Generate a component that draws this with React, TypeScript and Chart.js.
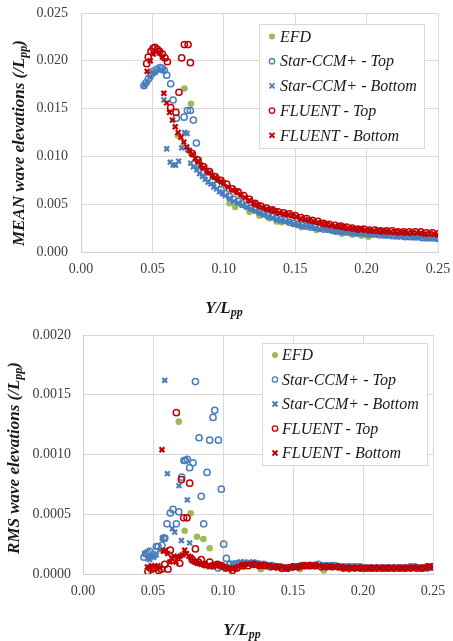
import React, { useEffect, useRef } from 'react';
import { Chart, registerables } from 'chart.js';
Chart.register(...registerables);

type P = [number, number];

// ---------- MEAN wave elevations ----------
const meanEfd: P[] = [
  [0.0677, 0.0122], [0.0724, 0.0171], [0.077, 0.0155], [0.0822, 0.0093],
  [0.104, 0.0051], [0.108, 0.0047], [0.118, 0.0042], [0.125, 0.0038], [0.132, 0.0035],
  [0.137, 0.0032], [0.1405, 0.0031], [0.1506, 0.0029], [0.1545, 0.0026], [0.165, 0.0023],
  [0.178, 0.0021], [0.1825, 0.0019], [0.19, 0.0018], [0.1965, 0.0017], [0.2012, 0.0016],
];

const meanStarTop: P[] = [
  [0.0441, 0.0174], [0.0455, 0.0177], [0.0472, 0.0181], [0.0488, 0.0185], [0.0506, 0.0189],
  [0.053, 0.0191], [0.0553, 0.0193], [0.057, 0.0192], [0.0584, 0.019], [0.06, 0.0185],
  [0.0628, 0.0176], [0.0645, 0.0159], [0.0668, 0.014], [0.0722, 0.0141], [0.0745, 0.0148],
  [0.0766, 0.0148], [0.0787, 0.0138], [0.0808, 0.0114],
  [0.083, 0.009], [0.086, 0.0084], [0.089, 0.0078], [0.092, 0.0074], [0.095, 0.007],
  [0.098, 0.0065], [0.101, 0.0061], [0.104, 0.0058], [0.107, 0.0055], [0.11, 0.0053],
  [0.113, 0.005], [0.116, 0.0048], [0.119, 0.0046], [0.122, 0.0044], [0.125, 0.0042],
  [0.128, 0.004], [0.131, 0.0038], [0.134, 0.0037], [0.137, 0.0035], [0.14, 0.0034],
  [0.143, 0.0033], [0.146, 0.0031], [0.149, 0.003], [0.152, 0.0029], [0.155, 0.0028],
  [0.158, 0.0027], [0.161, 0.0026], [0.164, 0.0026], [0.167, 0.0025], [0.17, 0.0024],
  [0.173, 0.0024], [0.176, 0.0023], [0.179, 0.0022], [0.182, 0.0022], [0.185, 0.0021],
  [0.188, 0.0021], [0.191, 0.002], [0.194, 0.002], [0.197, 0.002], [0.2, 0.0019],
  [0.203, 0.0019], [0.206, 0.0019], [0.209, 0.0018], [0.212, 0.0018], [0.215, 0.0018],
  [0.218, 0.0017], [0.221, 0.0017], [0.224, 0.0017], [0.227, 0.0016], [0.23, 0.0016],
  [0.233, 0.0016], [0.236, 0.0016], [0.239, 0.0015], [0.242, 0.0015], [0.245, 0.0015],
  [0.248, 0.0015], [0.25, 0.0014],
];

const meanStarBottom: P[] = [
  [0.0441, 0.0174], [0.0462, 0.0178], [0.0485, 0.0183], [0.0506, 0.0187], [0.052, 0.0188],
  [0.055, 0.019], [0.057, 0.019], [0.0581, 0.0159], [0.06, 0.0108], [0.0625, 0.0094],
  [0.0645, 0.0091], [0.0662, 0.0091], [0.0684, 0.0095], [0.0705, 0.0109], [0.0725, 0.0125],
  [0.0742, 0.0124], [0.0747, 0.0107], [0.0768, 0.0093], [0.0787, 0.0089], [0.081, 0.0086],
  [0.083, 0.0082], [0.085, 0.0079], [0.087, 0.0076], [0.089, 0.0073], [0.091, 0.0071],
  [0.093, 0.0068], [0.095, 0.0066], [0.097, 0.0063], [0.099, 0.0061], [0.101, 0.0059],
  [0.104, 0.0056], [0.107, 0.0053], [0.11, 0.0051], [0.113, 0.0049], [0.116, 0.0047],
  [0.119, 0.0045], [0.122, 0.0043], [0.125, 0.0041], [0.128, 0.0039], [0.131, 0.0037],
  [0.134, 0.0036], [0.137, 0.0034], [0.14, 0.0033], [0.143, 0.0032], [0.146, 0.0031],
  [0.149, 0.0029], [0.152, 0.0028], [0.155, 0.0027], [0.158, 0.0027], [0.161, 0.0026],
  [0.164, 0.0025], [0.167, 0.0024], [0.17, 0.0024], [0.173, 0.0023], [0.176, 0.0022],
  [0.179, 0.0022], [0.182, 0.0021], [0.185, 0.0021], [0.188, 0.002], [0.191, 0.002],
  [0.194, 0.0019], [0.197, 0.0019], [0.2, 0.0019], [0.203, 0.0018], [0.206, 0.0018],
  [0.209, 0.0018], [0.212, 0.0017], [0.215, 0.0017], [0.218, 0.0017], [0.221, 0.0016],
  [0.224, 0.0016], [0.227, 0.0016], [0.23, 0.0016], [0.233, 0.0015], [0.236, 0.0015],
  [0.239, 0.0015], [0.242, 0.0014], [0.245, 0.0014], [0.248, 0.0014],
];

const meanFluentTop: P[] = [
  [0.046, 0.0197], [0.0471, 0.0204], [0.049, 0.021], [0.0505, 0.0213], [0.0518, 0.0214],
  [0.0535, 0.0212], [0.055, 0.021], [0.057, 0.0207], [0.0588, 0.0203], [0.0605, 0.0199],
  [0.0628, 0.0151], [0.0665, 0.0146], [0.0686, 0.0167], [0.0705, 0.0203], [0.0724, 0.0217],
  [0.075, 0.0217], [0.0766, 0.0198],
  [0.078, 0.0103], [0.082, 0.0096], [0.086, 0.0089], [0.09, 0.0084], [0.094, 0.0079],
  [0.098, 0.0075], [0.102, 0.0071], [0.106, 0.0066], [0.11, 0.0063], [0.114, 0.0059],
  [0.118, 0.0055], [0.122, 0.0051], [0.126, 0.0048], [0.13, 0.0046], [0.134, 0.0044],
  [0.138, 0.0042], [0.142, 0.0041], [0.146, 0.004], [0.15, 0.0038], [0.154, 0.0036],
  [0.158, 0.0035], [0.162, 0.0033], [0.166, 0.0032], [0.17, 0.003], [0.174, 0.0029],
  [0.178, 0.0028], [0.182, 0.0027], [0.186, 0.0026], [0.19, 0.0025], [0.194, 0.0024],
  [0.198, 0.0024], [0.202, 0.0023], [0.206, 0.0023], [0.21, 0.0022], [0.214, 0.0022],
  [0.218, 0.0022], [0.222, 0.0021], [0.226, 0.0021], [0.23, 0.0021], [0.234, 0.0021],
  [0.238, 0.0021], [0.242, 0.002], [0.246, 0.002], [0.25, 0.0019],
];

const meanFluentBottom: P[] = [
  [0.0463, 0.0189], [0.0485, 0.02], [0.0506, 0.0207], [0.053, 0.021], [0.055, 0.0208],
  [0.057, 0.0204], [0.058, 0.0166], [0.06, 0.0156], [0.062, 0.0146], [0.064, 0.0138],
  [0.066, 0.0131], [0.068, 0.0125], [0.07, 0.012], [0.072, 0.0115], [0.074, 0.011],
  [0.076, 0.0106], [0.078, 0.0102], [0.08, 0.0098], [0.082, 0.0095], [0.084, 0.0091],
  [0.086, 0.0088], [0.088, 0.0085], [0.09, 0.0083], [0.092, 0.008], [0.094, 0.0078],
  [0.096, 0.0076], [0.098, 0.0074], [0.1, 0.0072], [0.103, 0.0068], [0.106, 0.0065],
  [0.109, 0.0063], [0.112, 0.006], [0.115, 0.0057], [0.118, 0.0054], [0.121, 0.0051],
  [0.124, 0.0049], [0.127, 0.0047], [0.13, 0.0045], [0.133, 0.0044], [0.136, 0.0043],
  [0.139, 0.0041], [0.142, 0.004], [0.145, 0.0039], [0.148, 0.0038], [0.151, 0.0037],
  [0.154, 0.0035], [0.157, 0.0034], [0.16, 0.0033], [0.163, 0.0032], [0.166, 0.0031],
  [0.169, 0.003], [0.172, 0.0029], [0.175, 0.0028], [0.178, 0.0027], [0.181, 0.0027],
  [0.184, 0.0026], [0.187, 0.0025], [0.19, 0.0025], [0.193, 0.0024], [0.196, 0.0024],
  [0.199, 0.0023], [0.202, 0.0023], [0.205, 0.0022], [0.208, 0.0022], [0.211, 0.0022],
  [0.214, 0.0022], [0.217, 0.0021], [0.22, 0.0021], [0.223, 0.0021], [0.226, 0.0021],
  [0.229, 0.002], [0.232, 0.002], [0.235, 0.002], [0.238, 0.002], [0.241, 0.0019],
  [0.244, 0.0019], [0.247, 0.0019], [0.25, 0.0018],
];

// ---------- RMS wave elevations ----------
const rmsEfd: P[] = [
  [0.0684, 0.001275], [0.0726, 0.000362], [0.0769, 0.000508], [0.0814, 0.000312],
  [0.086, 0.000293], [0.0905, 0.000215], [0.105, 0.00005], [0.115, 0.00006],
  [0.127, 0.00004], [0.142, 0.00004], [0.155, 0.00004], [0.172, 0.00003],
  [0.19, 0.00004], [0.2, 0.00004],
];

const rmsStarTop: P[] = [
  [0.0436, 0.00014], [0.0448, 0.00017], [0.0462, 0.00018], [0.0476, 0.00019], [0.0505, 0.00016],
  [0.0524, 0.00023], [0.0536, 0.00023], [0.0564, 0.00024], [0.0575, 0.0003], [0.0584, 0.0003],
  [0.06, 0.00042], [0.0624, 0.00051], [0.0643, 0.00054], [0.0667, 0.00042], [0.0684, 0.00052],
  [0.0705, 0.00081], [0.0721, 0.00095], [0.0731, 0.00095], [0.0745, 0.00096], [0.0762, 0.00089],
  [0.0786, 0.00093], [0.0803, 0.00161], [0.0829, 0.00114], [0.0845, 0.00065], [0.0862, 0.00042],
  [0.0886, 0.00085], [0.0905, 0.00112], [0.0929, 0.00131], [0.0941, 0.00137], [0.0965, 0.00005],
  [0.0967, 0.00112], [0.0988, 0.00071], [0.1005, 0.00025], [0.1024, 0.00013],
  [0.105, 0.00008], [0.108, 0.00008], [0.111, 0.00009], [0.114, 0.00009], [0.117, 0.00009],
  [0.12, 0.00009], [0.123, 0.00009], [0.126, 0.00008], [0.129, 0.00008], [0.132, 0.00007],
  [0.135, 0.00007], [0.138, 0.00006], [0.141, 0.00006], [0.144, 0.00005], [0.147, 0.00005],
  [0.15, 0.00006], [0.153, 0.00006], [0.156, 0.00007], [0.159, 0.00007], [0.162, 0.00007],
  [0.165, 0.00007], [0.168, 0.00008], [0.171, 0.00007], [0.174, 0.00007], [0.177, 0.00007],
  [0.18, 0.00007], [0.183, 0.00006], [0.186, 0.00006], [0.189, 0.00006], [0.192, 0.00006],
  [0.195, 0.00006], [0.198, 0.00006], [0.201, 0.00005], [0.204, 0.00005], [0.207, 0.00005],
  [0.21, 0.00005], [0.213, 0.00005], [0.216, 0.00005], [0.219, 0.00005], [0.222, 0.00005],
  [0.225, 0.00005], [0.228, 0.00005], [0.231, 0.00005], [0.234, 0.00006], [0.237, 0.00006],
  [0.24, 0.00005], [0.243, 0.00005], [0.246, 0.00005], [0.249, 0.00006],
];

const rmsStarBottom: P[] = [
  [0.0441, 0.00017], [0.046, 0.00013], [0.0476, 0.00012], [0.049, 0.00015], [0.0505, 0.00014],
  [0.0524, 0.00016], [0.0548, 0.0002], [0.0567, 0.0003], [0.0584, 0.00162], [0.0603, 0.00084],
  [0.0638, 0.00038], [0.0655, 0.00035], [0.0686, 0.00074], [0.0703, 0.00028], [0.0745, 0.00062],
  [0.0762, 0.00026], [0.078, 0.00012], [0.08, 0.0001], [0.083, 0.00009], [0.086, 0.00008],
  [0.09, 0.00007], [0.094, 0.00007], [0.098, 0.00006], [0.102, 0.00007],
  [0.1065, 0.00009], [0.1095, 0.00009], [0.1125, 0.0001], [0.1155, 0.0001], [0.1185, 0.00009],
  [0.1215, 0.0001], [0.1245, 0.00009], [0.1275, 0.00008], [0.1305, 0.00007], [0.1335, 0.00007],
  [0.1365, 0.00006], [0.1395, 0.00006], [0.1425, 0.00005], [0.1455, 0.00004], [0.1485, 0.00005],
  [0.1515, 0.00006], [0.1545, 0.00006], [0.1575, 0.00007], [0.1605, 0.00007], [0.1635, 0.00008],
  [0.1665, 0.00007], [0.1695, 0.00007], [0.1725, 0.00007], [0.1755, 0.00007], [0.1785, 0.00006],
  [0.1815, 0.00006], [0.1845, 0.00006], [0.1875, 0.00006], [0.1905, 0.00005], [0.1935, 0.00005],
  [0.1965, 0.00005], [0.1995, 0.00005], [0.2025, 0.00005], [0.2055, 0.00005], [0.2085, 0.00005],
  [0.2115, 0.00005], [0.2145, 0.00005], [0.2175, 0.00005], [0.2205, 0.00005], [0.2235, 0.00005],
  [0.2265, 0.00005], [0.2295, 0.00005], [0.2325, 0.00005], [0.2355, 0.00006], [0.2385, 0.00005],
  [0.2415, 0.00005], [0.2445, 0.00005], [0.2475, 0.00005],
];

const rmsFluentTop: P[] = [
  [0.0464, 0.00002], [0.049, 0.00004], [0.0512, 0.00005], [0.054, 0.00003], [0.056, 0.00004],
  [0.0584, 0.00008], [0.0607, 0.00004], [0.0624, 0.0002], [0.0645, 0.00012], [0.0667, 0.00135],
  [0.0691, 0.00009], [0.0703, 0.00079], [0.0719, 0.00047], [0.0743, 0.00047], [0.0762, 0.00076],
  [0.078, 0.00012], [0.0803, 0.00021], [0.0825, 0.0001], [0.0845, 0.00012], [0.087, 0.00008],
  [0.0905, 0.0001], [0.093, 0.00007], [0.096, 0.00008], [0.099, 0.00007], [0.102, 0.00005],
  [0.1067, 0.00003],
  [0.11, 0.00005], [0.114, 0.00007], [0.118, 0.00007], [0.122, 0.00008], [0.126, 0.00007],
  [0.13, 0.00007], [0.134, 0.00006], [0.138, 0.00006], [0.142, 0.00005], [0.146, 0.00005],
  [0.15, 0.00006], [0.154, 0.00006], [0.158, 0.00007], [0.162, 0.00007], [0.166, 0.00007],
  [0.17, 0.00006], [0.174, 0.00006], [0.178, 0.00006], [0.182, 0.00006], [0.186, 0.00005],
  [0.19, 0.00005], [0.194, 0.00005], [0.198, 0.00005], [0.202, 0.00005], [0.206, 0.00005],
  [0.21, 0.00005], [0.214, 0.00005], [0.218, 0.00005], [0.222, 0.00005], [0.226, 0.00005],
  [0.23, 0.00005], [0.234, 0.00005], [0.238, 0.00005], [0.242, 0.00005], [0.246, 0.00006],
  [0.25, 0.00006],
];

const rmsFluentBottom: P[] = [
  [0.046, 0.00006], [0.0475, 0.00005], [0.049, 0.00007], [0.0505, 0.00006], [0.052, 0.00006],
  [0.0535, 0.00007], [0.055, 0.00005], [0.0564, 0.00104], [0.0575, 0.00019], [0.059, 0.0002],
  [0.0605, 0.00017], [0.062, 0.0001], [0.0635, 0.00013], [0.065, 0.00015], [0.0665, 0.0001],
  [0.068, 0.00014], [0.0695, 0.00015], [0.071, 0.00016], [0.0726, 0.0002], [0.074, 0.00017],
  [0.0755, 0.00015], [0.077, 0.00014], [0.0785, 0.00011], [0.08, 0.0001], [0.0815, 0.00009],
  [0.083, 0.00009], [0.0845, 0.00008], [0.086, 0.00008], [0.0875, 0.00007], [0.089, 0.00007],
  [0.0905, 0.00006], [0.092, 0.00007], [0.0935, 0.00007], [0.095, 0.00008], [0.0965, 0.00008],
  [0.098, 0.00007], [0.0995, 0.00006], [0.101, 0.00006], [0.103, 0.00005], [0.105, 0.00005],
  [0.107, 0.00004], [0.109, 0.00005], [0.111, 0.00006], [0.113, 0.00007], [0.115, 0.00008],
  [0.118, 0.00008], [0.121, 0.00008], [0.124, 0.00008], [0.127, 0.00007], [0.13, 0.00007],
  [0.133, 0.00007], [0.136, 0.00006], [0.139, 0.00006], [0.142, 0.00006], [0.145, 0.00005],
  [0.148, 0.00006], [0.151, 0.00006], [0.154, 0.00006], [0.157, 0.00007], [0.16, 0.00007],
  [0.163, 0.00007], [0.166, 0.00007], [0.169, 0.00007], [0.172, 0.00006], [0.175, 0.00006],
  [0.178, 0.00006], [0.181, 0.00006], [0.184, 0.00006], [0.187, 0.00005], [0.19, 0.00005],
  [0.193, 0.00005], [0.196, 0.00005], [0.199, 0.00005], [0.202, 0.00005], [0.205, 0.00005],
  [0.208, 0.00005], [0.211, 0.00005], [0.214, 0.00005], [0.217, 0.00005], [0.22, 0.00005],
  [0.223, 0.00005], [0.226, 0.00005], [0.229, 0.00005], [0.232, 0.00005], [0.235, 0.00005],
  [0.238, 0.00005], [0.241, 0.00005], [0.244, 0.00005], [0.247, 0.00006], [0.25, 0.00006],
];

const seriesLabels = ['EFD', 'Star-CCM+ - Top', 'Star-CCM+ - Bottom', 'FLUENT - Top', 'FLUENT - Bottom'];
const xAxisMax = 0.25;
const xAxisStep = 0.05;
const meanAxisMax = 0.025;
const meanAxisStep = 0.005;
const rmsAxisMax = 0.002;
const rmsAxisStep = 0.0005;

const GREEN = '#9bbb59';
const BLUE = '#4a7ebb';
const RED = '#c00000';
const FONT = '"Liberation Serif", "Times New Roman", serif';

type Marker = { style: 'dot' | 'ring' | 'cross'; color: string };
const markers: Marker[] = [
  { style: 'dot', color: GREEN },
  { style: 'ring', color: BLUE },
  { style: 'cross', color: BLUE },
  { style: 'ring', color: RED },
  { style: 'cross', color: RED },
];

function makeDatasets(series: P[][]) {
  return series.map((pts, i) => {
    const m = markers[i];
    const base: any = {
      label: seriesLabels[i],
      data: pts.map(([x, y]) => ({ x, y })),
      order: 5 - i,
      showLine: false,
    };
    if (m.style === 'dot') {
      Object.assign(base, { pointStyle: 'circle', pointRadius: 3.3, backgroundColor: m.color, borderColor: m.color, pointBorderWidth: 0 });
    } else if (m.style === 'ring') {
      Object.assign(base, { pointStyle: 'circle', pointRadius: 3.1, backgroundColor: 'rgba(0,0,0,0)', borderColor: m.color, pointBorderWidth: 1.5 });
    } else {
      Object.assign(base, { pointStyle: 'crossRot', pointRadius: 3.4, backgroundColor: m.color, borderColor: m.color, pointBorderWidth: 2.2 });
    }
    return base;
  });
}

type Part = { t: string; sub?: boolean };

function drawRich(ctx: CanvasRenderingContext2D, parts: Part[], cx: number, cy: number, size: number, rot: number) {
  ctx.save();
  ctx.translate(cx, cy);
  ctx.rotate(rot);
  const main = `italic bold ${size}px ${FONT}`;
  const sub = `italic bold ${Math.round(size * 0.68)}px ${FONT}`;
  let w = 0;
  for (const p of parts) {
    ctx.font = p.sub ? sub : main;
    w += ctx.measureText(p.t).width;
  }
  let x = -w / 2;
  ctx.textBaseline = 'alphabetic';
  ctx.textAlign = 'left';
  ctx.fillStyle = '#1a1a1a';
  for (const p of parts) {
    ctx.font = p.sub ? sub : main;
    ctx.fillText(p.t, x, p.sub ? size * 0.55 : size * 0.33);
    x += ctx.measureText(p.t).width;
  }
  ctx.restore();
}

function drawMarker(ctx: CanvasRenderingContext2D, m: Marker, x: number, y: number) {
  ctx.save();
  ctx.strokeStyle = m.color;
  ctx.fillStyle = m.color;
  if (m.style === 'dot') {
    ctx.beginPath();
    ctx.arc(x, y, 3, 0, Math.PI * 2);
    ctx.fill();
  } else if (m.style === 'ring') {
    ctx.lineWidth = 1.3;
    ctx.beginPath();
    ctx.arc(x, y, 2.7, 0, Math.PI * 2);
    ctx.stroke();
  } else {
    ctx.lineWidth = 1.9;
    const r = 2.5;
    ctx.beginPath();
    ctx.moveTo(x - r, y - r); ctx.lineTo(x + r, y + r);
    ctx.moveTo(x + r, y - r); ctx.lineTo(x - r, y + r);
    ctx.stroke();
  }
  ctx.restore();
}

const overlayPlugin = {
  id: 'overlay',
  afterDraw(chart: any, _args: any, opts: any) {
    const ctx: CanvasRenderingContext2D = chart.ctx;
    const L = opts.legend;
    ctx.save();
    ctx.fillStyle = '#ffffff';
    ctx.fillRect(L.x, L.y, L.w, L.h);
    ctx.strokeStyle = '#d9d9d9';
    ctx.lineWidth = 1;
    ctx.strokeRect(L.x + 0.5, L.y + 0.5, L.w, L.h);
    ctx.font = `italic 16px ${FONT}`;
    ctx.textBaseline = 'middle';
    ctx.textAlign = 'left';
    ctx.fillStyle = '#1a1a1a';
    seriesLabels.forEach((lab, i) => {
      const yy = L.y + L.first + i * L.gap;
      drawMarker(ctx, markers[i], L.mx, yy);
      ctx.fillText(lab, L.tx, yy + 1);
    });
    ctx.restore();
    drawRich(ctx, opts.yTitle, opts.yTitlePos[0], opts.yTitlePos[1], 17, -Math.PI / 2);
    drawRich(ctx, [{ t: 'Y/L' }, { t: 'pp', sub: true }], opts.xTitlePos[0], opts.xTitlePos[1], 17, 0);
  },
};

type Spec = {
  height: number;
  series: P[][];
  yMax: number;
  yStep: number;
  yDec: number;
  padTop: number;
  padRight: number;
  yWidth: number;
  xHeight: number;
  yPad: number;
  legend: any;
  yTitle: Part[];
  yTitlePos: [number, number];
  xTitlePos: [number, number];
};

function ChartPanel({ spec }: { spec: Spec }) {
  const ref = useRef<HTMLCanvasElement | null>(null);
  useEffect(() => {
    if (!ref.current) return;
    const chart = new Chart(ref.current, {
      type: 'scatter',
      data: { datasets: makeDatasets(spec.series) },
      plugins: [overlayPlugin],
      options: {
        animation: false,
        responsive: false,
        devicePixelRatio: 1,
        layout: { padding: { left: 0, right: spec.padRight, top: spec.padTop, bottom: 0 } },
        plugins: {
          legend: { display: false },
          tooltip: { enabled: false },
          overlay: {
            legend: spec.legend,
            yTitle: spec.yTitle,
            yTitlePos: spec.yTitlePos,
            xTitlePos: spec.xTitlePos,
          },
        } as any,
        scales: {
          x: {
            type: 'linear',
            min: 0,
            max: xAxisMax,
            afterFit: (s: any) => { s.height = spec.xHeight; s.paddingLeft = 0; s.paddingRight = 0; },
            ticks: {
              stepSize: xAxisStep,
              padding: 9,
              color: '#404040',
              font: { family: FONT, size: 14 },
              callback: (v: any) => Number(v).toFixed(2),
            },
            grid: { color: '#d9d9d9', drawTicks: false, lineWidth: 1 },
            border: { color: '#d0d0d0' },
          },
          y: {
            type: 'linear',
            min: 0,
            max: spec.yMax,
            afterFit: (s: any) => { s.width = spec.yWidth; s.paddingTop = 0; s.paddingBottom = 0; },
            ticks: {
              stepSize: spec.yStep,
              padding: spec.yPad,
              color: '#404040',
              font: { family: FONT, size: 14 },
              callback: (v: any) => Number(v).toFixed(spec.yDec),
            },
            grid: { color: '#d9d9d9', drawTicks: false, lineWidth: 1 },
            border: { color: '#d0d0d0' },
          },
        },
      } as any,
    });
    return () => chart.destroy();
  }, [spec]);
  return <canvas ref={ref} width={453} height={spec.height} style={{ display: 'block' }} />;
}

const meanSpec: Spec = {
  height: 320,
  series: [meanEfd, meanStarTop, meanStarBottom, meanFluentTop, meanFluentBottom],
  yMax: meanAxisMax,
  yStep: meanAxisStep,
  yDec: 3,
  padTop: 13,
  padRight: 15,
  yWidth: 81,
  xHeight: 68,
  yPad: 13,
  legend: { x: 259, y: 24, w: 165, h: 124, first: 12.5, gap: 24.7, mx: 272, tx: 280 },
  yTitle: [{ t: 'MEAN wave elevations (/L' }, { t: 'pp', sub: true }, { t: ')' }],
  yTitlePos: [18, 143],
  xTitlePos: [224, 307],
};

const rmsSpec: Spec = {
  height: 321,
  series: [rmsEfd, rmsStarTop, rmsStarBottom, rmsFluentTop, rmsFluentBottom],
  yMax: rmsAxisMax,
  yStep: rmsAxisStep,
  yDec: 4,
  padTop: 15,
  padRight: 20,
  yWidth: 83,
  xHeight: 67,
  yPad: 12,
  legend: { x: 262, y: 23, w: 165, h: 122, first: 12, gap: 24.5, mx: 275, tx: 282 },
  yTitle: [{ t: 'RMS wave elevations (/L' }, { t: 'pp', sub: true }, { t: ')' }],
  yTitlePos: [13, 138],
  xTitlePos: [242, 309],
};

export default function App() {
  return (
    <div style={{ position: 'absolute', left: 0, top: 0, width: 453, height: 641, background: '#fff' }}>
      <ChartPanel spec={meanSpec} />
      <ChartPanel spec={rmsSpec} />
    </div>
  );
}
